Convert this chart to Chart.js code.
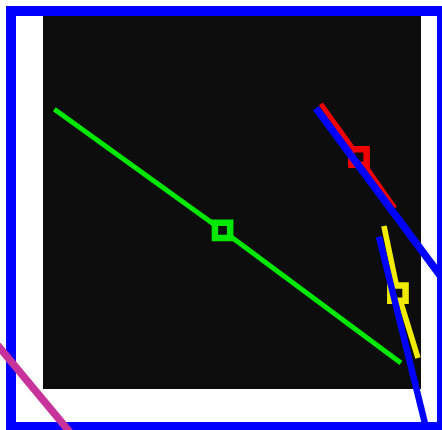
<!DOCTYPE html>
<html>
<head>
<meta charset="utf-8">
<script src="https://cdn.jsdelivr.net/npm/chart.js@4.4.1/dist/chart.umd.min.js"></script>
<style>
  body { margin: 0; background: #fff; }
  #wrap { width: 442px; height: 430px; }
</style>
</head>
<body>
<div id="wrap"><canvas id="chart" width="442" height="430"></canvas></div>
<script>
/* DATA (plot units, x 0-100 left to right, y 0-100 bottom to top) */
const greenX = [3, 47.5, 94.7];
const greenY = [75, 42.5, 7];
const redX = [73.5, 83.6, 93.1];
const redY = [76.4, 62.2, 48.5];
const yellowX = [90.2, 93.9, 99.2];
const yellowY = [43.7, 25.7, 8.3];

const blueAX = [72.2, 106.5];
const blueAY = [75.3, 28.5];
const blueBX = [88.9, 101.6];
const blueBY = [40.8, -11.5];
const pinkX = [-12.7, 7.7];
const pinkY = [12.6, -12.3];

const xRange = [0, 100];
const yRange = [0, 100];

function pts(xs, ys) {
  return xs.map((x, i) => ({ x: x, y: ys[i] }));
}

/* BACKGROUND + FRAME */
const backdrop = {
  id: "backdrop",
  beforeDraw(chart) {
    const { ctx, chartArea } = chart;
    ctx.save();
    ctx.fillStyle = "#ffffff";
    ctx.fillRect(0, 0, chart.width, chart.height);
    ctx.strokeStyle = "#0000ff";
    ctx.lineWidth = 10;
    ctx.strokeRect(11, 11, 431, 416);
    ctx.fillStyle = "#0d0d0d";
    ctx.fillRect(chartArea.left, chartArea.top,
      chartArea.right - chartArea.left, chartArea.bottom - chartArea.top);
    ctx.restore();
  }
};

function overlay(xs, ys, color, width) {
  return {
    data: pts(xs, ys),
    showLine: true,
    borderColor: color,
    borderWidth: width,
    pointRadius: 0,
    borderCapStyle: "butt",
    clip: false
  };
}

function series(xs, ys, color, width) {
  return {
    data: pts(xs, ys),
    showLine: true,
    borderColor: color,
    borderWidth: width,
    pointStyle: "rect",
    pointRadius: [0, 10.8, 0],
    pointBorderWidth: 6.5,
    pointBorderColor: color,
    pointBackgroundColor: "#0d0d0d",
    clip: false
  };
}

new Chart(document.getElementById("chart"), {
  type: "scatter",
  data: {
    datasets: [
      overlay(blueAX, blueAY, "#0000ff", 7.5),
      overlay(blueBX, blueBY, "#0000ff", 6.5),
      overlay(pinkX, pinkY, "#c8329b", 7.5),
      series(greenX, greenY, "#00e800", 5),
      series(redX, redY, "#f00000", 5),
      series(yellowX, yellowY, "#f0eb00", 5.6)
    ]
  },
  options: {
    responsive: false,
    animation: false,
    devicePixelRatio: 1,
    layout: { padding: { left: 43, top: 16, right: 21, bottom: 41 } },
    plugins: { legend: { display: false }, tooltip: { enabled: false } },
    scales: {
      x: { type: "linear", display: false, min: xRange[0], max: xRange[1] },
      y: { type: "linear", display: false, min: yRange[0], max: yRange[1] }
    }
  },
  plugins: [backdrop]
});
</script>
</body>
</html>
